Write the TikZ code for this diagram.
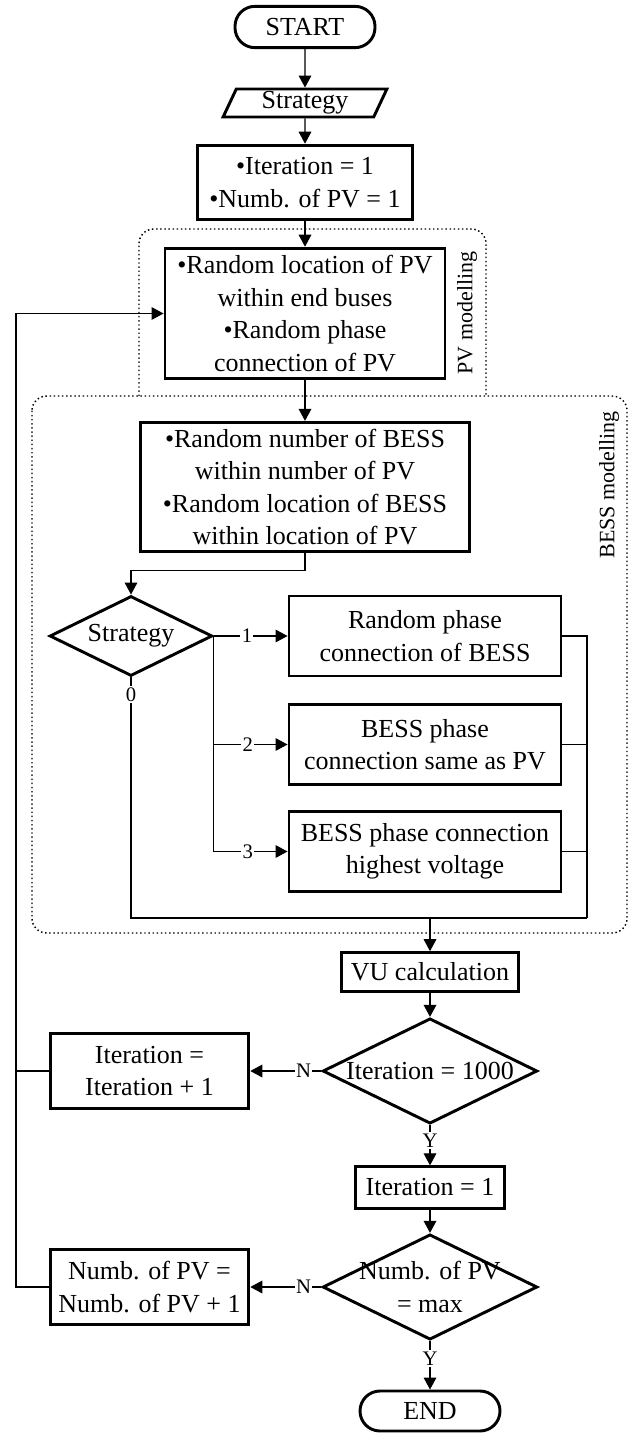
\documentclass[tikz,border=0pt]{standalone}
\usepackage{fontspec}
\setmainfont{Liberation Serif}
\usetikzlibrary{shapes.geometric,arrows.meta}
\begin{document}
\begin{tikzpicture}[x=0.75pt,y=-0.75pt,
        every node/.style={font=\fontsize{19.5}{24.3}\selectfont},
        box/.style={draw,line width=2.2pt,align=center,inner sep=0pt},
        term/.style={box,rounded corners=15pt},
        dec/.style={draw,line width=2.2pt,diamond,aspect=2,align=center,inner sep=-8pt},
        lab/.style={fill=white,inner sep=1pt,font=\fontsize{15.5}{18}\selectfont},
        line/.style={line width=0.9pt},
        arr/.style={line width=0.9pt,-{Triangle[length=9pt,width=9.5pt]}},
        zone/.style={dotted,line width=1.1pt,rounded corners=11pt},
        side/.style={rotate=90,font=\fontsize{16.5}{19}\selectfont}]
    \useasboundingbox (0,0) rectangle (634,1433);
    \draw[zone] (139,396) -- (139,229) -- (486,229) -- (486,396);
    \draw[zone] (32,396) rectangle (627,933);
    \node[side] (pvlab) at (467,313) {PV modelling};
    \node[side] (besslab) at (609,485) {BESS modelling};
    \node[term,minimum width=105pt,minimum height=31pt] (start) at (305,27) {START};
    \node[draw,line width=2.2pt,trapezium,trapezium left angle=70,trapezium right angle=110,
        trapezium stretches=true,minimum width=123pt,minimum height=21pt,inner sep=0pt] (inp) at (305,103) {Strategy};
    \node[box,minimum width=161pt,minimum height=56pt] (init) at (305,182.5) {•Iteration = 1\\•Numb. of PV = 1};
    \node[box,minimum width=210pt,minimum height=98pt] (pv) at (305,313.5) {•Random location of PV\\within end buses\\•Random phase\\connection of PV};
    \node[box,minimum width=247pt,minimum height=97pt] (bess) at (305,487) {•Random number of BESS\\within number of PV\\•Random location of BESS\\within location of PV};
    \node[dec,minimum width=122pt,minimum height=60pt] (strat) at (131,636) {Strategy};
    \node[box,minimum width=204pt,minimum height=60pt] (ph1) at (425,636) {Random phase\\connection of BESS};
    \node[box,minimum width=204pt,minimum height=60pt] (ph2) at (425,744.5) {BESS phase\\connection same as PV};
    \node[box,minimum width=204pt,minimum height=60pt] (ph3) at (425,851.5) {BESS phase connection\\highest voltage};
    \node[box,minimum width=133pt,minimum height=29pt] (vu) at (430,972) {VU calculation};
    \node[dec,minimum width=161pt,minimum height=79pt] (itmax) at (430,1071) {Iteration = 1000};
    \node[box,minimum width=112pt,minimum height=31pt] (itone) at (430,1187.5) {Iteration = 1};
    \node[dec,minimum width=161pt,minimum height=79pt] (pvmax) at (430,1287) {Numb. of PV\\= max};
    \node[term,minimum width=105pt,minimum height=30pt] (end) at (430,1411) {END};
    \node[box,minimum width=149pt,minimum height=56pt] (itinc) at (149.5,1071) {Iteration =\\Iteration + 1};
    \node[box,minimum width=149pt,minimum height=56pt] (pvinc) at (149.5,1287) {Numb. of PV =\\Numb. of PV + 1};
    \coordinate (rc) at (587,918);
    \coordinate (back) at (16,1287);
    \draw[arr] (start.south) -- (inp.north);
    \draw[arr] (inp.south) -- (init.north);
    \draw[arr] (init.south) -- (pv.north);
    \draw[arr] (pv.south) -- (bess.north);
    \draw[arr] (bess.south) -- ++(0,17) -| (strat.north);
    \draw[arr] (strat.east) -- node[lab,pos=0.45]{1} (ph1.west);
    \draw[arr] (strat.east) |- node[lab,pos=0.73]{2} (ph2.west);
    \draw[arr] (strat.east) |- node[lab,pos=0.73]{3} (ph3.west);
    \draw[line] (strat.south) |- node[lab,pos=0.035]{0} (rc);
    \draw[line] (ph1.east) -| (rc);
    \draw[line] (ph2.east) -- (ph2.east -| rc);
    \draw[line] (ph3.east) -- (ph3.east -| rc);
    \draw[arr] (vu.north |- rc) -- (vu.north);
    \draw[arr] (vu.south) -- (itmax.north);
    \draw[arr] (itmax.west) -- node[lab,pos=0.25]{N} (itinc.east);
    \draw[arr] (itmax.south) -- node[lab,pos=0.38]{Y} (itone.north);
    \draw[arr] (itone.south) -- (pvmax.north);
    \draw[arr] (pvmax.west) -- node[lab,pos=0.25]{N} (pvinc.east);
    \draw[arr] (pvmax.south) -- node[lab,pos=0.36]{Y} (end.north);
    \draw[arr] (pvinc.west) -- (back) |- (pv.west);
    \draw[line] (itinc.west) -- (itinc.west -| back);
\end{tikzpicture}
\end{document}
